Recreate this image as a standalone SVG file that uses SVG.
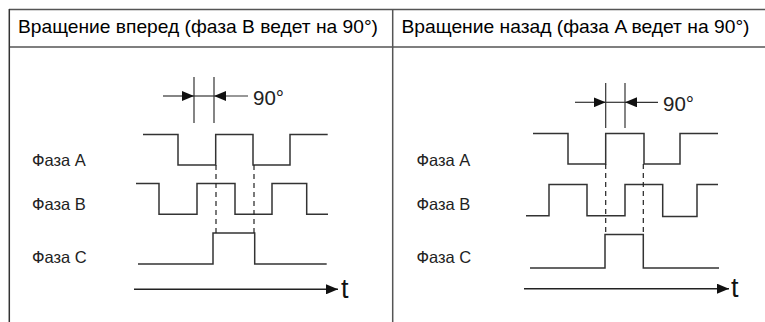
<svg xmlns="http://www.w3.org/2000/svg" width="765" height="322" viewBox="0 0 765 322">
<defs>
<marker id="ah" viewBox="0 0 12 10" refX="12" refY="5" markerWidth="12" markerHeight="10" markerUnits="userSpaceOnUse" orient="auto">
<path d="M0,0 L12,5 L0,10 Z" fill="#111"/>
</marker>
</defs>
<style>
.grid{stroke:#555;stroke-width:1.5;fill:none}
.hdr{font-family:"Liberation Sans",Arial,sans-serif;font-size:18.5px;fill:#000}
.lbl{font-family:"Liberation Sans",Arial,sans-serif;font-size:16.5px;fill:#222}
.deg{font-family:"Liberation Sans",Arial,sans-serif;font-size:20.5px;fill:#222}
.tt{font-family:"Liberation Sans",Arial,sans-serif;font-size:27px;fill:#111}
.wave{stroke:#333;stroke-width:1.5;fill:none}
.dash{stroke:#222;stroke-width:1.2;stroke-dasharray:5,4;fill:none}
.dim{stroke:#333;stroke-width:1.2;fill:none}
.axis{stroke:#222;stroke-width:1.5;fill:none}
</style>
<rect width="765" height="322" fill="#fff"/>
<g id="table">
<line class="grid" x1="9" y1="9.5" x2="765" y2="9.5"/>
<line class="grid" x1="9" y1="47" x2="765" y2="47"/>
<line class="grid" x1="9.3" y1="9" x2="9.3" y2="322" style="stroke:#333"/>
<line class="grid" x1="392.7" y1="9" x2="392.7" y2="322"/>
</g>
<g id="header-left"><text class="hdr" x="18" y="32.5" textLength="360" lengthAdjust="spacingAndGlyphs">Вращение вперед (фаза B ведет на 90°)</text></g>
<g id="header-right"><text class="hdr" x="401.5" y="32.5" textLength="348" lengthAdjust="spacingAndGlyphs">Вращение назад (фаза A ведет на 90°)</text></g>

<g id="left-labels">
<text class="lbl" x="32" y="166">Фаза A</text>
<text class="lbl" x="32" y="210">Фаза B</text>
<text class="lbl" x="32" y="263">Фаза C</text>
</g>
<g id="right-labels">
<text class="lbl" x="416.5" y="166">Фаза A</text>
<text class="lbl" x="416.5" y="210">Фаза B</text>
<text class="lbl" x="416.5" y="263">Фаза C</text>
</g>

<g id="left-waves">
<polyline class="wave" points="143,134.5 178,134.5 178,165 215.7,165 215.7,134.5 253,134.5 253,165 290,165 290,134.5 327.7,134.5"/>
<polyline class="wave" points="136,183.5 159,183.5 159,214.3 197,214.3 197,183.5 235,183.5 235,214.3 272,214.3 272,183.5 306.7,183.5 306.7,214.3 328,214.3"/>
<polyline class="wave" points="138,264 213,264 213,233 254.7,233 254.7,264 326.7,264"/>
</g>
<g id="right-waves">
<polyline class="wave" points="533,133.5 568,133.5 568,164 605.7,164 605.7,133.5 644,133.5 644,164 680,164 680,133.5 718,133.5"/>
<polyline class="wave" points="526,215.7 549,215.7 549,184.5 587,184.5 587,215.7 625,215.7 625,184.5 662.7,184.5 662.7,216.5 697,216.5 697,184.5 718,184.5"/>
<polyline class="wave" points="530,268 605,268 605,234.5 643.3,234.5 643.3,268 719,268"/>
</g>

<g id="connectors">
<line class="dash" x1="216" y1="165" x2="216" y2="233"/>
<line class="dash" x1="254" y1="165" x2="254" y2="233"/>
<line class="dash" x1="605.7" y1="164" x2="605.7" y2="234.5"/>
<line class="dash" x1="643.3" y1="164" x2="643.3" y2="234.5"/>
<line class="dim" x1="194" y1="77" x2="194" y2="123"/>
<line class="dim" x1="214" y1="77" x2="214" y2="123"/>
<line class="dim" x1="163" y1="96" x2="194" y2="96" marker-end="url(#ah)"/>
<line class="dim" x1="194" y1="96" x2="214" y2="96"/>
<line class="dim" x1="248" y1="96" x2="214" y2="96" marker-end="url(#ah)"/>
<line class="dim" x1="605.7" y1="83" x2="605.7" y2="128"/>
<line class="dim" x1="625" y1="83" x2="625" y2="128"/>
<line class="dim" x1="575" y1="102.3" x2="605.7" y2="102.3" marker-end="url(#ah)"/>
<line class="dim" x1="605.7" y1="102.3" x2="625" y2="102.3"/>
<line class="dim" x1="658" y1="102.3" x2="625" y2="102.3" marker-end="url(#ah)"/>
<line class="axis" x1="134" y1="289.3" x2="338" y2="289.3" marker-end="url(#ah)"/>
<line class="axis" x1="524" y1="288.7" x2="729" y2="288.7" marker-end="url(#ah)"/>
</g>
<g id="annotations">
<text class="deg" x="253" y="105">90°</text>
<text class="deg" x="663" y="110.5">90°</text>
<text class="tt" x="341" y="297.5">t</text>
<text class="tt" x="731" y="297">t</text>
</g>
</svg>
